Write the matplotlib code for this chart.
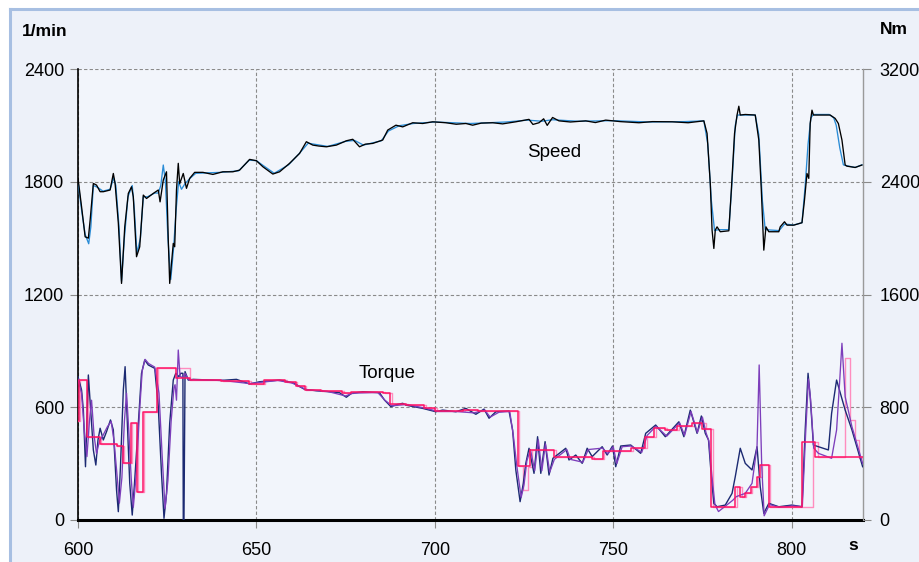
import matplotlib
matplotlib.use('Agg')
from matplotlib import pyplot as plt
from matplotlib.patches import Rectangle
from matplotlib.lines import Line2D

plt.rcParams['font.family'] = ['Liberation Sans', 'DejaVu Sans']

# %% data

# speed, measured (1/min)
speed_t = [600, 601, 602, 602.9, 603.4, 604.3, 605.2, 606.2, 607.1, 609, 609.9, 610.4,
           611.3, 612.2, 613.1, 614.1, 615, 615.5, 616.4, 617.3, 618.3, 619.2, 621.1,
           622.5, 623, 623.9, 624.8, 625.3, 625.7, 626.7, 627.1, 627.6, 628.1, 628.5,
           629.5, 630.4, 631.3, 632.7, 635, 637.8, 640.6, 643.4, 645.3, 648.1, 650,
           651.8, 654.6, 656.5, 659.3, 662.1, 664, 665.8, 667.5, 669.6, 672.4, 675.2,
           677, 678.9, 680.5, 682.6, 685.4, 686.8, 689.1, 691, 693.8, 696.6, 699.4,
           703.1, 706, 708.7, 710.6, 713, 716.2, 719, 722.7, 726.4, 727.5, 729.2, 730.5,
           731.5, 733, 734.8, 738, 742.3, 745, 747.9, 752, 757.2, 761, 766.5, 771,
           775.4, 776.3, 777.2, 777.7, 778.2, 778.6, 779.1, 780, 782.4, 783.1, 784,
           784.7, 785.2, 785.6, 787, 789.8, 790.8, 791.5, 791.9, 792.2, 792.8, 793.6,
           796.4, 796.8, 798, 798.7, 800.6, 802.9, 803.6, 804.3, 804.8, 805.2, 805.7,
           806.1, 810.8, 812.2, 813.1, 814.1, 815, 815.5, 817.8, 819.7]
speed_meas = [1819, 1667, 1507, 1500, 1596, 1791, 1782, 1747, 1747, 1756, 1844, 1790,
              1580, 1259, 1560, 1738, 1773, 1720, 1401, 1454, 1729, 1711, 1738,
              1756, 1693, 1809, 1853, 1490, 1259, 1472, 1454, 1756, 1898, 1790,
              1844, 1765, 1818, 1850, 1850, 1839, 1853, 1853, 1862, 1919, 1912,
              1880, 1841, 1853, 1898, 1951, 2013, 1995, 1990, 1986, 1995, 2018,
              2026, 1986, 2000, 2004, 2022, 2075, 2101, 2092, 2114, 2110, 2119,
              2114, 2106, 2110, 2101, 2112, 2114, 2108, 2119, 2132, 2105, 2114, 2135,
              2100, 2142, 2124, 2118, 2124, 2115, 2128, 2120, 2114, 2120, 2119, 2114,
              2124, 2057, 1791, 1543, 1445, 1543, 1560, 1534, 1539, 1756, 2057,
              2155, 2202, 2155, 2158, 2155, 2022, 1756, 1578, 1436, 1560, 1534,
              1534, 1560, 1587, 1569, 1569, 1582, 1702, 1844, 1818, 2110, 2181,
              2155, 2155, 2137, 2110, 2022, 1889, 1883, 1876, 1889]

# speed, set point (1/min)
speed_set_t = [600, 601, 602, 603, 603.6, 604.3, 605.5, 607, 609, 610, 610.6, 611.5,
               612.2, 613, 614, 615.2, 615.8, 616.5, 617.5, 618.3, 619.5, 621.5, 622.5,
               623.2, 623.9, 624.5, 625.2, 626, 626.8, 627.5, 628.2, 629, 630, 631.5,
               633, 640, 645, 648, 650, 652, 655, 659, 662, 664.5, 670, 675, 677.5, 680,
               685, 687, 690, 694, 700, 710, 720, 726, 730, 733, 740, 750, 760, 770,
               775.4, 776.5, 777.5, 778.4, 779.5, 782.4, 783.3, 784.2, 784.8, 789.8,
               790.8, 791.8, 792.6, 796.5, 798, 800.6, 802.9, 803.8, 804.6, 805.4,
               806.1, 810.5, 811.8, 812.5, 813.5, 814.5, 815.5, 817.8, 819.7]
speed_set = [1800, 1650, 1520, 1470, 1560, 1780, 1770, 1750, 1760, 1820, 1780, 1560,
             1270, 1500, 1720, 1780, 1650, 1420, 1500, 1720, 1720, 1740, 1740,
             1780, 1889, 1800, 1500, 1280, 1450, 1650, 1800, 1760, 1790, 1820,
             1845, 1850, 1858, 1915, 1912, 1885, 1845, 1890, 1950, 2005, 1988, 2015,
             2020, 1995, 2018, 2070, 2098, 2110, 2118, 2110, 2118, 2128, 2122, 2130,
             2122, 2125, 2118, 2120,
             2124, 2000, 1700, 1540, 1545, 1545, 1800, 2100, 2155, 2155,
             2050, 1700, 1545, 1540, 1575, 1570, 1582, 1780, 2000, 2140,
             2158, 2158, 2140, 2100, 1980, 1890, 1885, 1876, 1890]

# torque, measured (Nm)
torque_t = [600, 601, 601.5, 602.1, 602.9, 603.5, 604.3, 605, 605.6, 606.2, 607.1, 608,
            609.1, 609.9, 610.8, 611.3, 611.9, 612.7, 613.2, 613.8, 614.5, 615.2, 615.9,
            616.9, 617.8, 618.7, 619.7, 621.5, 622.5, 623.4, 624.1, 624.8, 625.7, 626.7,
            627.4, 628.3, 628.8, 629.4, 629.5, 629.7, 630, 630.9, 632.3, 636.9, 640,
            644.4, 648.1, 650.9, 656.5, 660.2, 663.5, 666.8, 670.5, 673.3, 675.2, 676.6,
            679.8, 684.5, 685.9, 687.7, 689.5, 691, 691.9, 696.6, 700.3, 702.2, 705.9,
            708.7, 711.5, 713.8, 715.2, 717.1, 720.8, 721.8, 722.7, 723.9, 724.8, 725.5,
            726.4, 727.8, 728.8, 729.7, 730.9, 732, 733.1, 736.7, 737.6, 739.5, 741.3,
            742.7, 744.1, 746.9, 748.3, 749.8, 750.7, 752.1, 754.9, 757.7, 759.1, 761.9,
            764.6, 768.4, 769.8, 771.6, 773.5, 774.7, 775.8, 776.7, 777.5, 778.2, 779.1,
            781.4, 783.3, 784.2, 785.6, 787, 788.9, 790.3, 791.2, 792.2, 793.6, 796.4,
            800.1, 802.9, 803.8, 804.6, 805.2, 806.1, 807.5, 810.3, 811.2, 812.6, 815,
            816.9, 819.9]
torque_meas = [1017, 922, 780, 378, 1029, 804, 497, 390, 568, 651, 568, 627,
               710, 639, 213, 59, 378, 922, 1088, 710, 260, 35, 284,
               686, 1041, 1135, 1100, 1076, 804, 331, 12, 189, 686, 993,
               1041, 1017, 1041, 1041, 0, 0, 1053, 993, 998, 993, 990,
               998, 965, 981, 993, 974, 927, 917, 910, 903, 871, 898,
               910, 903, 851, 804, 820, 828, 815, 792, 768, 780, 768,
               792, 750, 787, 722, 768, 773, 639, 355, 130, 260, 402,
               509, 331, 591, 331, 556, 319, 438, 509, 426, 461, 402,
               509, 450, 520, 461, 525, 378, 525, 532, 473, 615, 674,
               591, 697, 591, 780, 615, 738, 615, 568, 307, 118, 94,
               106, 189, 307, 509, 402, 355, 520, 236, 47, 118, 94,
               106, 94, 639, 1041, 875, 532, 520, 497, 757, 993, 780,
               639, 378]

# torque, estimated (Nm)
torque_est_t = [600, 601, 601.8, 602.5, 603.2, 603.8, 604.5, 605.2, 606, 607, 608.2,
                609.3, 610.1, 611, 611.6, 612.3, 613, 613.6, 614.2, 614.9, 615.5, 616.3,
                617.2, 618, 618.8, 619.8, 621.5, 622.7, 623.6, 624.4, 625.2, 626.1,
                626.9, 627.2, 627.6, 628.1, 628.6, 629.3, 630, 631, 640, 648, 656, 660,
                664, 670, 675, 677, 684, 686, 688, 692, 697, 701, 706, 711, 714, 715.5,
                718, 721, 722, 723, 724.2, 725, 725.8, 726.8, 728, 729, 730, 731, 732.2,
                733.5, 737, 738, 741.5, 743, 747, 748.5, 750, 751, 752.5, 755, 758,
                759.5, 762, 765, 768.6, 770, 771.8, 773.6, 775, 776, 776.8, 777.7, 778.5,
                779.5, 781.5, 783.5, 784.5, 787, 788.9, 790.3, 790.9, 791.6, 792.3,
                793.8, 796.5, 800.2, 803, 803.9, 804.7, 805.3, 806.2, 807.5, 811.2,
                812.6, 813.5, 814.1, 815, 816.9, 819.9]
torque_est = [1000, 900, 620, 450, 700, 850, 600, 470, 560, 600, 660,
              700, 560, 300, 120, 300, 700, 900, 650, 300, 90, 320,
              750, 1060, 1140, 1110, 1085, 900, 450, 80, 280, 700,
              940, 960, 850, 1206, 1020, 1010, 1040, 995, 992, 968, 990, 972,
              925, 912, 880, 900, 905, 850, 810, 820, 795, 770, 770, 760, 780, 730,
              765, 770, 600, 380, 160, 250, 420, 500, 350, 570, 350, 540, 340,
              430, 500, 430, 410, 500, 510, 470, 520, 400, 520, 525, 480,
              600, 665, 595, 690, 600, 770, 620, 730, 620, 560, 300, 110,
              60, 100, 140, 166, 189, 260, 520, 1100, 400, 30,
              110, 90, 100, 95, 600, 1000, 860, 510, 473, 438,
              639, 1000, 1254, 875, 662, 402]

# torque set point, stepped (Nm)
torque_set_t = [600, 600.4, 602.4, 606.2, 610.8, 612.7, 614.8, 616.4, 618.3, 622.2,
                627.5, 631.3, 640, 648, 652, 658, 661, 663.5, 668, 674, 676.5, 680,
                685.5, 687.5, 692, 697, 700, 704, 708, 712, 716, 721.5, 723.2, 726.8,
                733.5, 744, 747, 752, 755, 759, 761.5, 764.5, 768, 772, 775, 777.3,
                784.2, 785.6, 786.8, 788.5, 790.3, 791.2, 793.6, 802.9, 806.5, 820]
torque_set = [700, 993, 591, 539, 525, 407, 686, 196, 764, 1076,
              1010, 993, 985, 965, 990, 980, 950, 925, 915, 900, 905, 910,
              900, 820, 815, 795, 770, 775, 780, 770, 775, 770, 383, 497,
              447, 430, 490, 490, 510, 587, 650, 640, 667, 686, 645, 94,
              236, 165, 189, 236, 307, 390, 94, 556, 449, 449]

# torque set point, delayed (Nm)
torque_dly_t = [600, 600.6, 602.8, 606.5, 611, 613, 615, 616.8, 618.5, 622.4, 631.5,
                640.5, 648.5, 652.5, 658.5, 661.5, 664, 668.5, 674.5, 677, 680.5, 686,
                688, 692.5, 697.5, 700.5, 704.5, 708.5, 712.5, 716.5, 722, 723.5, 724.8,
                726, 727.3, 734, 744.5, 747.5, 752.5, 755.5, 759.5, 762, 765, 768.5,
                772.5, 776, 778, 784.8, 786, 787.2, 789, 790.6, 791.6, 793.9, 806.1,
                807.5, 815, 816.4, 817.7, 818.9, 820]
torque_dly = [700, 993, 591, 539, 525, 407, 686, 196, 764, 1076, 993,
              985, 965, 990, 980, 950, 925, 915, 900, 905, 910, 900,
              820, 815, 795, 770, 775, 780, 770, 775, 770, 383, 213,
              378, 497, 447, 430, 490, 490, 510, 587, 650, 640, 667,
              686, 645, 94, 236, 165, 189, 236, 307, 390, 94, 556,
              449, 1147, 709, 568, 440, 440]

x_ticks = [600, 650, 700, 750, 800]
speed_ticks = [0, 600, 1200, 1800, 2400]
torque_ticks = [0, 800, 1600, 2400, 3200]

# %% figure

fig = plt.figure(figsize=(9.19, 5.62), dpi=100)
fig.patch.set_facecolor('white')

# panel background with light blue frame on top and left
fig.patches.append(Rectangle((10 / 919, 0), 1, 1 - 9 / 562, transform=fig.transFigure,
                             facecolor='#EDF1F9', edgecolor='none', zorder=-3))
fig.lines.append(Line2D([10 / 919, 1], [1 - 9 / 562, 1 - 9 / 562], transform=fig.transFigure,
                        color='#A7BFE2', lw=2.2, zorder=-2))
fig.lines.append(Line2D([10 / 919, 10 / 919], [0, 1 - 9 / 562], transform=fig.transFigure,
                        color='#A7BFE2', lw=2.2, zorder=-2))

ax = fig.add_axes([78 / 919, 42 / 562, 785 / 919, 451 / 562])
ax.set_facecolor('#F2F5FB')
ax2 = ax.twinx()

ax.plot(speed_set_t, speed_set, color='#2A8CD6', lw=0.95, zorder=3)
ax.plot(speed_t, speed_meas, color='black', lw=0.95, zorder=4)

ax2.step(torque_dly_t, torque_dly, where='post', color='#FF8DBE', lw=1.0, zorder=2)
ax2.plot(torque_t, torque_meas, color='#1C2A72', lw=1.0, zorder=3)
ax2.plot(torque_est_t, torque_est, color='#7D3EBB', lw=0.95, zorder=4)
ax2.step(torque_set_t, torque_set, where='post', color='#FF1466', lw=1.1, zorder=5)

ax.set_xlim(600, 820)
ax.set_ylim(0, 2400)
ax2.set_ylim(0, 3200)
ax.set_xticks(x_ticks)
ax.set_yticks(speed_ticks)
ax2.set_yticks(torque_ticks)

ax.grid(True, color='#8A8A8A', ls=(0, (3, 2)), lw=0.8)
for a in (ax, ax2):
    a.spines['top'].set_visible(False)
ax.spines['left'].set_color('black')
ax.spines['left'].set_linewidth(1.2)
ax.spines['bottom'].set_color('black')
ax.spines['bottom'].set_linewidth(2.2)
ax.spines['bottom'].set_zorder(6)
ax2.spines['right'].set_color('#9A9A9A')
ax2.spines['right'].set_linewidth(0.8)
ax2.spines['left'].set_visible(False)
ax2.spines['bottom'].set_visible(False)

ax.tick_params(axis='x', direction='out', length=6, width=0.8, color='#8A8A8A',
               labelsize=13, pad=10)
ax.tick_params(axis='y', direction='out', length=6, width=0.8, color='#8A8A8A',
               labelsize=13, pad=4)
ax2.tick_params(axis='y', direction='out', length=6, width=0.8, color='#8A8A8A',
                labelsize=13, pad=6)

ax.text(733.5, 1955, 'Speed', fontsize=13.5, ha='center', va='center', zorder=7)
ax.text(686.5, 777, 'Torque', fontsize=13.5, ha='center', va='center', zorder=7)

fig.text(22 / 919, 1 - 31 / 562, '1/min', fontsize=12.5, fontweight='bold', va='center')
fig.text(880 / 919, 1 - 30 / 562, 'Nm', fontsize=12.5, fontweight='bold', va='center')
fig.text(853.5 / 919, 1 - 546 / 562, 's', fontsize=12.5, fontweight='bold',
         ha='center', va='center')

fig.savefig('out.png', dpi=100, facecolor=fig.get_facecolor())
